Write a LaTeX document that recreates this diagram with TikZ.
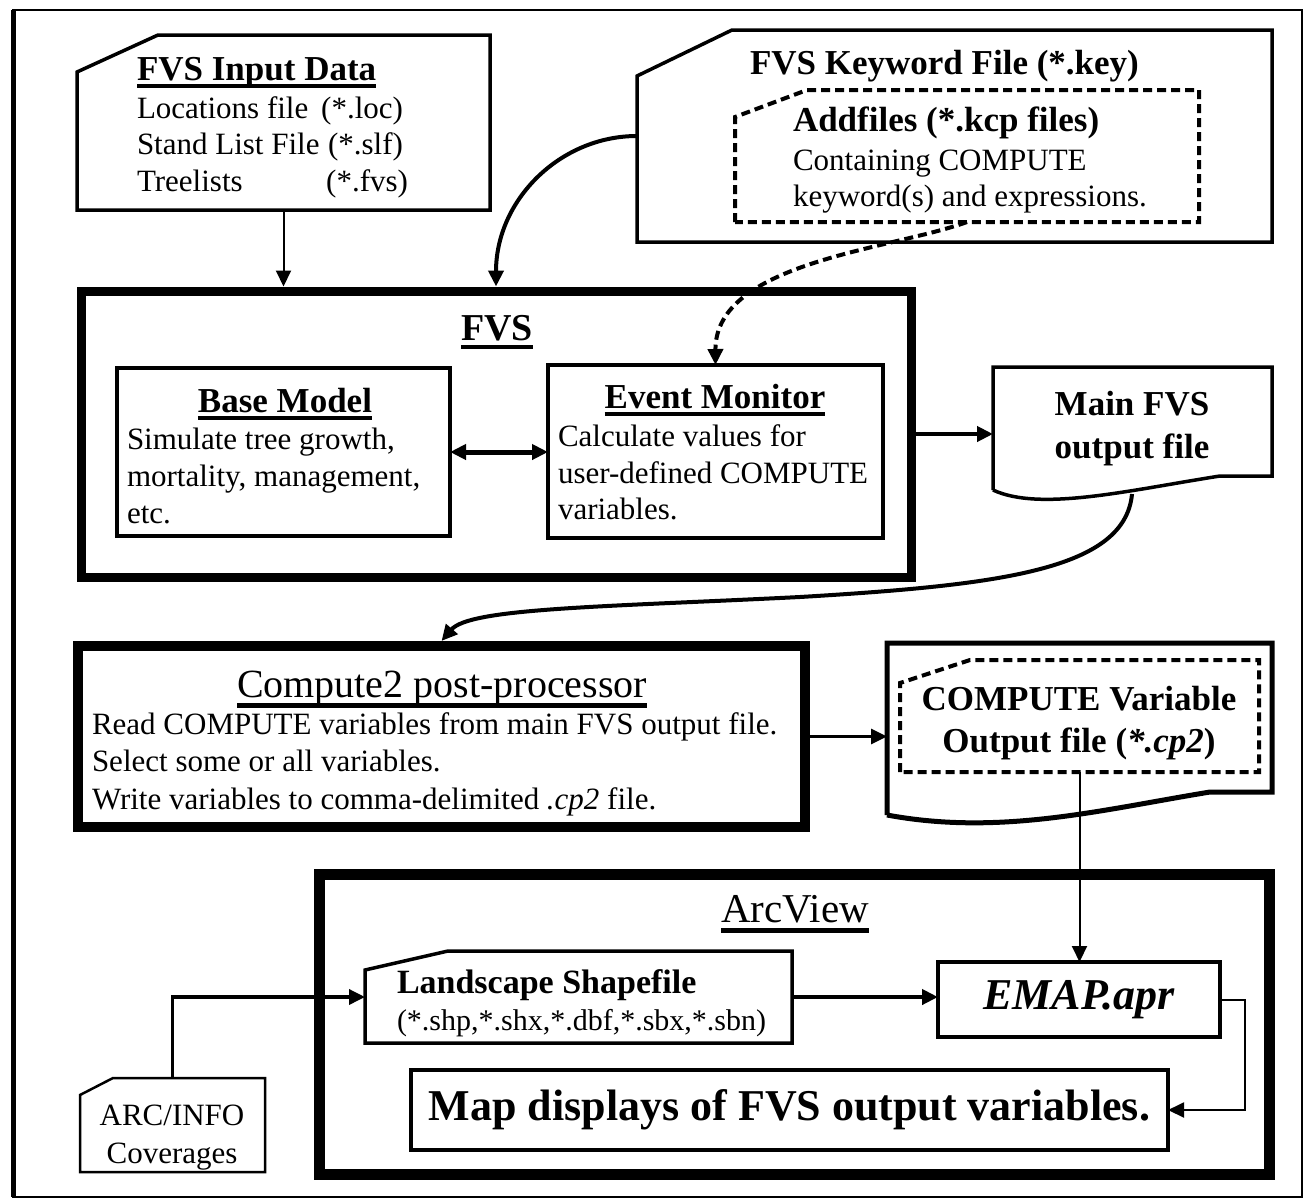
\documentclass[tikz,border=0pt]{standalone}
\usepackage{fontspec}
\setmainfont{Liberation Serif}
\usetikzlibrary{arrows.meta,calc}
\tikzset{
  >={Triangle[length=16pt,width=15pt]},
  ghost/.style={rectangle,inner sep=0pt,outer sep=0pt},
  thinbox/.style={ghost,draw,line width=4pt},
  thickbox/.style={ghost,draw,line width=10pt},
  outline/.style={line width=3.5pt,line join=miter},
  dashline/.style={line width=4pt,dash pattern=on 9pt off 5pt},
  txt/.style={inner sep=0pt,outer sep=0pt,anchor=base west,font=\fontsize{31}{37}\selectfont},
  txtr/.style={txt,anchor=base east},
  txtc/.style={txt,anchor=base},
  ttl/.style={inner sep=0pt,outer sep=0pt,anchor=base,font=\bfseries\fontsize{35}{42}\selectfont},
  ttlw/.style={ttl,anchor=base west},
  ul/.style={line width=4pt},
  conn/.style={line width=4pt,->},
  thinconn/.style={line width=2pt,->},
}
\begin{document}
\begin{tikzpicture}[x=1pt,y=-1pt]
\useasboundingbox (0,0) rectangle (1306,1202);
% frame
\node[ghost,draw,line width=2.5pt,minimum width=1289,minimum height=1187] (frame) at (657.5,603.5) {};
\draw[line width=5pt] (frame.south west) -- (frame.north west);

% ---------- FVS Input Data ----------
\node[ghost,minimum width=413,minimum height=175] (inp) at (283.5,122.5) {};
\draw[outline] (inp.south west) -- ($(inp.north west)+(0,37)$) -- ($(inp.north west)+(81,0)$) -- (inp.north east) -- (inp.south east) -- cycle;
\node[ttlw] (inpT) at (137,80) {FVS Input Data};
\draw[ul] ($(inpT.base west)+(0,6)$) -- ($(inpT.base east)+(0,6)$);
\node[txt] (inp1) at (137,118) {Locations file};
\node[txtr] (inp1r) at (403,118) {(*.loc)};
\node[txt] (inp2) at (137,154) {Stand List File};
\node[txtr] (inp2r) at (403,154) {(*.slf)};
\node[txt] (inp3) at (137,191) {Treelists};
\node[txtr] (inp3r) at (408,191) {(*.fvs)};

% ---------- Keyword file ----------
\node[ghost,minimum width=635,minimum height=212] (kw) at (954.5,136) {};
\draw[outline] (kw.south west) -- ($(kw.north west)+(0,46)$) -- ($(kw.north west)+(95,0)$) -- (kw.north east) -- (kw.south east) -- cycle;
\node[ttlw] (kwT) at (750,74) {FVS Keyword File (*.key)};
\node[ghost,minimum width=464,minimum height=132] (add) at (967,156) {};
\draw[dashline] (add.south west) -- ($(add.north west)+(0,27)$) -- ($(add.north west)+(72,0)$) -- (add.north east) -- (add.south east) -- cycle;
\node[ttlw] (addT) at (793,131) {Addfiles (*.kcp files)};
\node[txt] (add1) at (793,170) {Containing COMPUTE};
\node[txt] (add2) at (793,206) {keyword(s) and expressions.};

% ---------- FVS ----------
\node[thickbox,line width=9pt,minimum width=830,minimum height=286] (fvs) at (496,434) {};
\node[ttl,font=\bfseries\fontsize{38}{44}\selectfont] (fvsT) at (497,340) {FVS};
\draw[ul] ($(fvsT.base west)+(0,7)$) -- ($(fvsT.base east)+(0,7)$);

\node[thinbox,minimum width=333,minimum height=168] (bm) at (283.5,452) {};
\node[ttl] (bmT) at (285,412) {Base Model};
\draw[ul] ($(bmT.base west)+(0,6)$) -- ($(bmT.base east)+(0,6)$);
\node[txt] (bm1) at (127,449) {Simulate tree growth,};
\node[txt] (bm2) at (127,486) {mortality, management,};
\node[txt] (bm3) at (127,523) {etc.};

\node[thinbox,minimum width=335,minimum height=173] (em) at (715.5,451.5) {};
\node[ttl] (emT) at (715,408) {Event Monitor};
\draw[ul] ($(emT.base west)+(0,6)$) -- ($(emT.base east)+(0,6)$);
\node[txt] (em1) at (558,446) {Calculate values for};
\node[txt] (em2) at (558,483) {user-defined COMPUTE};
\node[txt] (em3) at (558,519) {variables.};

% ---------- Main FVS output file ----------
\node[ghost,minimum width=279,minimum height=123] (mfo) at (1132.5,428.5) {};
\draw[outline] (mfo.south west) -- (mfo.north west) -- (mfo.north east) -- (1272,476) -- (1220,476) .. controls (1130,490) and (1040,512) .. (mfo.south west);
\node[ttl] (mfo1) at (1132,415) {Main FVS};
\node[ttl] (mfo2) at (1132,458) {output file};
\coordinate (mfoout) at (1132,494);

% ---------- Compute2 ----------
\node[thickbox,minimum width=727,minimum height=181] (c2) at (441.5,736.5) {};
\node[ttl,font=\fontsize{40}{46}\selectfont] (c2T) at (442,697) {Compute2 post-processor};
\draw[ul,line width=5pt] ($(c2T.base west)+(0,8)$) -- ($(c2T.base east)+(0,8)$);
\node[txt] (c21) at (92,734) {Read COMPUTE variables from main FVS output file.};
\node[txt] (c22) at (92,771) {Select some or all variables.};
\node[txt] (c23) at (92,809) {Write variables to comma-delimited \textit{.cp2} file.};

% ---------- COMPUTE Variable output file ----------
\node[ghost,minimum width=385,minimum height=172] (cv) at (1079.5,729) {};
\draw[outline,line width=5pt] (cv.south west) -- (cv.north west) -- (cv.north east) -- (1272,792) -- (1210,792) .. controls (1100,810) and (1000,836) .. (cv.south west);
\node[ghost,minimum width=359,minimum height=112] (cvd) at (1079.5,716) {};
\draw[dashline] (cvd.south west) -- ($(cvd.north west)+(0,23)$) -- ($(cvd.north west)+(70,0)$) -- (cvd.north east) -- (cvd.south east) -- cycle;
\node[ttl] (cv1) at (1079,710) {COMPUTE Variable};
\node[ttl] (cv2) at (1079,752) {Output file (\textit{*.cp2})};

% ---------- ArcView ----------
\node[thickbox,line width=11pt,minimum width=950,minimum height=300] (av) at (794,1024) {};
\node[ttl,font=\fontsize{41}{47}\selectfont] (avT) at (795,922) {ArcView};
\draw[ul,line width=5pt] ($(avT.base west)+(0,8)$) -- ($(avT.base east)+(0,8)$);

\node[ghost,minimum width=427,minimum height=92] (ls) at (578.5,997) {};
\draw[outline] (ls.south west) -- ($(ls.north west)+(0,19)$) -- ($(ls.north west)+(83,0)$) -- (ls.north east) -- (ls.south east) -- cycle;
\node[ttlw,font=\bfseries\fontsize{34}{40}\selectfont] (lsT) at (397,993) {Landscape Shapefile};
\node[txt,font=\fontsize{30}{36}\selectfont] (ls1) at (397,1030) {(*.shp,*.shx,*.dbf,*.sbx,*.sbn)};

\node[thinbox,minimum width=282,minimum height=75,font=\bfseries\itshape\fontsize{44}{50}\selectfont] (emap) at (1079,999.5) {EMAP.apr};
\node[thinbox,minimum width=757,minimum height=80,font=\bfseries\fontsize{44}{50}\selectfont] (map) at (789.5,1110) {Map displays of FVS output variables.};

% ---------- ARC/INFO ----------
\node[ghost,minimum width=185,minimum height=94] (arc) at (172.5,1125) {};
\draw[outline,line width=2.5pt] (arc.south west) -- ($(arc.north west)+(0,17)$) -- ($(arc.north west)+(33,0)$) -- (arc.north east) -- (arc.south east) -- cycle;
\node[txtc] (arc1) at (172,1125) {ARC/INFO};
\node[txtc] (arc2) at (172,1163) {Coverages};

% ---------- connectors ----------
\draw[thinconn] (inp.south) -- (inp.south |- {$(fvs.north)+(0,-4.5)$});
\draw[conn] (kw.west) .. controls (560,136) and (496,200) .. ($(fvs.north)+(0,-4.5)$);
\draw[dashline,->] (add.south) .. controls (890,250) and (715,262) .. (em.north);
\draw[line width=5pt,<->] (bm.east) -- (bm.east -| em.west);
\draw[line width=4pt,->] ($(fvs.east)+(4.5,0)$) -- (fvs.east -| mfo.west);
\draw[conn] (mfoout) .. controls (1125,570) and (1000,585) .. (800,597) .. controls (600,607) and (470,608) .. ($(c2.north)+(0,-5)$);
\draw[line width=3pt,->] ($(c2.east)+(5,0)$) -- (c2.east -| cv.west);
\draw[thinconn] (cvd.south) -- (cvd.south |- emap.north);
\draw[line width=4pt,->] (ls.east) -- (ls.east -| emap.west);
\draw[thinconn] (emap.east) -- ++(25,0) |- (map.east);
\draw[line width=3.5pt,->] (arc.north) |- (ls.west);
\end{tikzpicture}
\end{document}
